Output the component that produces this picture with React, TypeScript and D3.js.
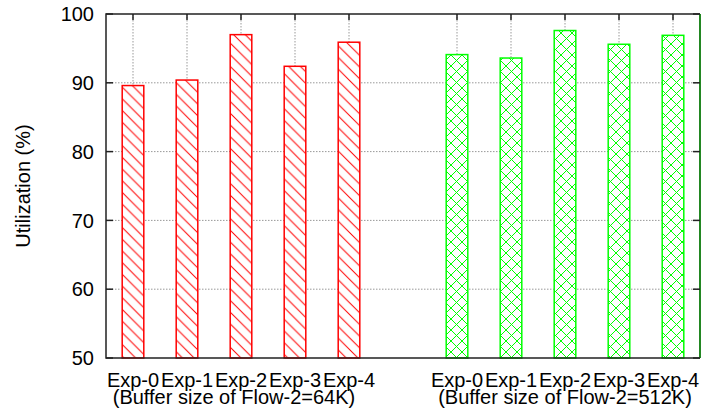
import React from "react";
import * as d3 from "d3";

const categories = ["Exp-0", "Exp-1", "Exp-2", "Exp-3", "Exp-4"];
const groupPositions64 = [0, 1, 2, 3, 4];
const groupPositions512 = [6, 7, 8, 9, 10];
const values64K = [89.6, 90.4, 97.0, 92.4, 95.9];
const values512K = [94.1, 93.6, 97.6, 95.6, 96.9];
const groupLabels = ["(Buffer size of Flow-2=64K)", "(Buffer size of Flow-2=512K)"];
const groupLabelPos = [1.87, 8];
const yTicks = [50, 60, 70, 80, 90, 100];
const yLabel = "Utilization (%)";

const W = 703;
const H = 419;
const left = 106;
const right = 700;
const top = 14;
const bottom = 358;

export default function App() {
  const x = d3.scaleLinear().domain([-0.5, 10.5]).range([left, right]);
  const y = d3.scaleLinear().domain([50, 100]).range([bottom, top]);
  const barW = 21.6;
  const font = "'Liberation Sans', Arial, Helvetica, sans-serif";
  const allPos = [...groupPositions64, ...groupPositions512];
  const bars = [
    ...groupPositions64.map((p, i) => ({ p, v: values64K[i], g: 0 })),
    ...groupPositions512.map((p, i) => ({ p, v: values512K[i], g: 1 })),
  ];
  const colors = ["#ff0000", "#00ff00"];
  return (
    <svg width={W} height={H} style={{ position: "absolute", left: 0, top: 0, background: "#fff" }}>
      <defs>
        <pattern id="hatchR" patternUnits="userSpaceOnUse" width={11.7} height={11.7}>
          <path d="M-1,-1 L12.7,12.7 M-1,10.7 L1,12.7 M10.7,-1 L12.7,1" stroke="#ff0000" strokeWidth={1} />
        </pattern>
        <pattern id="hatchG" patternUnits="userSpaceOnUse" width={11} height={11}>
          <path d="M-1,-1 L12,12 M-1,10 L1,12 M10,-1 L12,1 M12,-1 L-1,12 M-1,1 L1,-1 M10,12 L12,10" stroke="#00ff00" strokeWidth={1} />
        </pattern>
      </defs>
      <rect x={0} y={0} width={W} height={H} fill="#fff" />
      {/* grid */}
      {yTicks.filter((t) => t !== 50 && t !== 100).map((t) => (
        <line key={"gy" + t} x1={left} x2={right} y1={y(t)} y2={y(t)} stroke="#999" strokeWidth={1} strokeDasharray="1.5,1.5" />
      ))}
      {allPos.map((p) => (
        <line key={"gx" + p} x1={x(p)} x2={x(p)} y1={top} y2={bottom} stroke="#999" strokeWidth={1} strokeDasharray="1.5,1.5" />
      ))}
      {/* bars */}
      {bars.map((b, i) => (
        <g key={"b" + i}>
          <rect x={x(b.p) - barW / 2} y={y(b.v)} width={barW} height={y(50) - y(b.v)} fill="#fff" />
          <rect
            x={x(b.p) - barW / 2}
            y={y(b.v)}
            width={barW}
            height={y(50) - y(b.v)}
            fill={b.g === 0 ? "url(#hatchR)" : "url(#hatchG)"}
            stroke={colors[b.g]}
            strokeWidth={1.5}
          />
        </g>
      ))}
      {/* border */}
      <path d={`M${right},${top} L${left},${top} L${left},${bottom} L${right},${bottom}`} fill="none" stroke="#222" strokeWidth={1.5} />
      <line x1={right} x2={right} y1={top} y2={bottom} stroke="#0b7a0b" strokeWidth={1.8} />
      {/* y ticks */}
      {yTicks.map((t) => (
        <g key={"yt" + t}>
          <line x1={left} x2={left + 7} y1={y(t)} y2={y(t)} stroke="#222" strokeWidth={1.5} />
          <line x1={right - 7} x2={right} y1={y(t)} y2={y(t)} stroke="#222" strokeWidth={1.5} />
          <text x={94} y={y(t) + 7.2} textAnchor="end" fontFamily={font} fontSize={20} fill="#000">
            {t}
          </text>
        </g>
      ))}
      {/* x ticks top */}
      {allPos.map((p) => (
        <line key={"xt" + p} x1={x(p)} x2={x(p)} y1={top} y2={top + 6} stroke="#222" strokeWidth={1.5} />
      ))}
      {/* x labels */}
      {allPos.map((p, i) => (
        <text key={"xl" + p} x={x(p)} y={386.5} textAnchor="middle" fontFamily={font} fontSize={20} fill="#000">
          {categories[i % categories.length]}
        </text>
      ))}
      {groupLabels.map((l, i) => (
        <text key={"gl" + i} x={x(groupLabelPos[i])} y={403.5} textAnchor="middle" fontFamily={font} fontSize={20} fill="#000">
          {l}
        </text>
      ))}
      <text
        transform={`translate(30,${(top + bottom) / 2}) rotate(-90)`}
        textAnchor="middle"
        fontFamily={font}
        fontSize={20}
        fill="#000"
      >
        {yLabel}
      </text>
    </svg>
  );
}
